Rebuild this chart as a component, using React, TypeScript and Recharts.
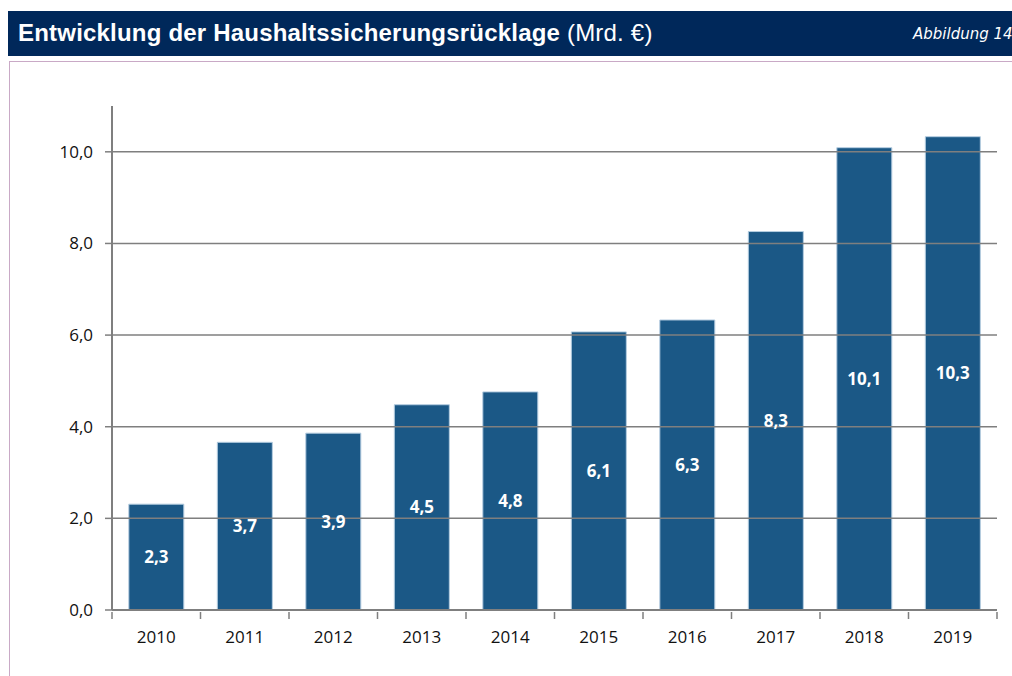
import { BarChart, Bar, XAxis, YAxis, LabelList, ReferenceLine } from "recharts";

const years = ["2010", "2011", "2012", "2013", "2014", "2015", "2016", "2017", "2018", "2019"];
const ruecklage = [2.31, 3.66, 3.86, 4.48, 4.76, 6.07, 6.33, 8.26, 10.09, 10.33];
const yTicks = [0, 2, 4, 6, 8, 10];

const data = years.map((year, i) => ({ year, value: ruecklage[i] }));

const fmt = (v: number) => v.toFixed(1).replace(".", ",");

const AXIS = "#7f7f7f";

const YearTick = (props: any) => {
  const { x, y, payload } = props;
  const half = payload.offset || 0;
  return (
    <g>
      <line x1={x - half} y1={y - 6} x2={x - half} y2={y + 1} stroke={AXIS} strokeWidth={1.5} />
      {payload.index === years.length - 1 && (
        <line x1={x + half} y1={y - 6} x2={x + half} y2={y + 1} stroke={AXIS} strokeWidth={1.5} />
      )}
      <text x={x} y={y + 25} textAnchor="middle" fill="#111" fontSize={17} fontFamily="Open Sans">
        {payload.value}
      </text>
    </g>
  );
};

const App = () => {
  return (
    <div style={{ position: "relative", width: 1012, height: 676, overflow: "hidden", fontFamily: "Open Sans" }}>
      <style>{`html { overflow: hidden; } body { margin: 0; }`}</style>
      {/* Header */}
      <div
        style={{
          position: "absolute",
          left: 8,
          top: 11,
          width: 1004,
          height: 45,
          background: "#00285a",
          color: "#fff",
          overflow: "hidden",
        }}
      >
        <div
          style={{
            position: "absolute",
            left: 10,
            top: 8,
            fontFamily: "Liberation Sans",
            fontSize: 24,
            letterSpacing: 0.2,
            whiteSpace: "nowrap",
          }}
        >
          <span style={{ fontWeight: "bold" }}>Entwicklung der Haushaltssicherungsrücklage</span>{" "}
          <span>(Mrd. €)</span>
        </div>
        <div
          style={{
            position: "absolute",
            left: 905,
            top: 14,
            fontFamily: "DejaVu Sans",
            fontStyle: "italic",
            fontSize: 15,
            whiteSpace: "nowrap",
          }}
        >
          Abbildung 14
        </div>
      </div>
      {/* Frame */}
      <div
        style={{
          position: "absolute",
          left: 9,
          top: 61,
          width: 1003,
          height: 615,
          borderTop: "1px solid #c9a9c6",
          borderLeft: "1px solid #c9a9c6",
        }}
      />
      <div style={{ position: "absolute", left: 8, top: 60 }}>
        <BarChart
          width={1004}
          height={616}
          data={data}
          margin={{ top: 46, right: 15, bottom: 26, left: 0 }}
          barCategoryGap="19%"
        >
          <XAxis
            dataKey="year"
            axisLine={{ stroke: AXIS, strokeWidth: 2 }}
            tickLine={false}
            tick={<YearTick />}
            interval={0}
            height={40}
          />
          <YAxis
            domain={[0, 11]}
            ticks={yTicks}
            width={104}
            axisLine={{ stroke: AXIS, strokeWidth: 2 }}
            tickLine={{ stroke: AXIS, strokeWidth: 1.5 }}
            tickSize={7}
            tickMargin={12}
            tickFormatter={fmt}
            tick={{ fill: "#111", fontSize: 17, fontFamily: "Open Sans" }}
          />
          {yTicks.slice(1).map((t) => (
            <ReferenceLine key={t} y={t} stroke={AXIS} strokeWidth={1.5} />
          ))}
          <Bar dataKey="value" fill="#1b5886" stroke="#b5cde0" strokeWidth={1} isAnimationActive={false}>
            <LabelList
              dataKey="value"
              position="center"
              formatter={(v: any) => fmt(Number(v))}
              fill="#ffffff"
              fontSize={17}
              fontWeight="bold"
              fontFamily="Open Sans"
            />
          </Bar>
        </BarChart>
      </div>
    </div>
  );
};

export default App;
